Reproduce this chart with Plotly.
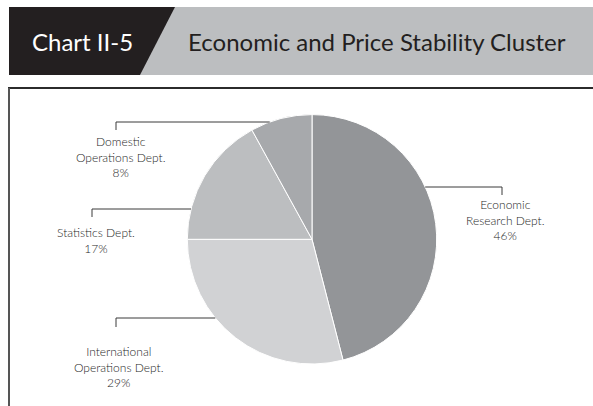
import math
import plotly.graph_objects as go

# Share of the Economic and Price Stability Cluster by department (%)
departments = ["Economic Research Dept.", "International Operations Dept.",
               "Statistics Dept.", "Domestic Operations Dept."]
shares = [46, 29, 17, 8]
label_texts = ["Economic<br>Research Dept.<br>46%",
               "International<br>Operations Dept.<br>29%",
               "Statistics Dept.<br>17%",
               "Domestic<br>Operations Dept.<br>8%"]
slice_colors = ["#939598", "#d1d2d4", "#bcbec0", "#a7a9ac"]

W, H = 593, 406
FONT = "Lato"
INK = "#231f20"


def px(x):
    return x / W


def py(y):
    return 1 - y / H


# pie geometry in pixels
cx, cy, r = 312, 239.3, 124.7

fig = go.Figure(go.Pie(
    labels=departments,
    values=shares,
    sort=False,
    direction="clockwise",
    rotation=0,
    textinfo="none",
    hoverinfo="label+percent",
    marker=dict(colors=slice_colors, line=dict(color="white", width=1)),
    domain=dict(x=[px(cx - r), px(cx + r)], y=[py(cy + r), py(cy - r)]),
    showlegend=False,
))

shapes = []
# header band
shapes.append(dict(type="rect", xref="paper", yref="paper",
                   x0=px(9), x1=px(593), y0=py(75), y1=py(7),
                   fillcolor="#bcbec0", line=dict(width=0), layer="below"))
shapes.append(dict(type="path", xref="paper", yref="paper",
                   path=f"M {px(9)},{py(7)} L {px(175)},{py(7)} L {px(140)},{py(75)} L {px(9)},{py(75)} Z",
                   fillcolor=INK, line=dict(width=0), layer="below"))
# frame around the chart body
shapes.append(dict(type="line", xref="paper", yref="paper",
                   x0=px(8), x1=px(593), y0=py(88), y1=py(88),
                   line=dict(color="#2b2b2b", width=2)))
shapes.append(dict(type="line", xref="paper", yref="paper",
                   x0=px(9), x1=px(9), y0=py(88), y1=py(406),
                   line=dict(color="#555555", width=2)))


def edge_x(y, side):
    dx = math.sqrt(max(r * r - (y - cy) ** 2, 0))
    return cx + side * dx


# leader lines: (bracket x, line y, tick length, side of pie)
leaders = [(502, 187, 8, 1), (116, 318, 9, -1), (92, 209, 8, -1), (116, 122, 8, -1)]
for bx, ly, tick, side in leaders:
    ex = edge_x(ly, side)
    shapes.append(dict(type="path", xref="paper", yref="paper",
                       path=f"M {px(ex)},{py(ly)} L {px(bx)},{py(ly)} L {px(bx)},{py(ly + tick)}",
                       line=dict(color="#3a3a3a", width=1)))

annotations = [
    dict(text="Chart II-5", x=px(83), y=py(41), font=dict(size=24, color="white", family=FONT)),
    dict(text="Economic and Price Stability Cluster", x=px(377), y=py(41),
         font=dict(size=24, color=INK, family=FONT)),
]
# department labels: centre positions in pixels
label_pos = [(505, 220), (119, 367), (96, 240), (121, 157)]
for txt, (lx, ly) in zip(label_texts, label_pos):
    annotations.append(dict(text=txt, x=px(lx), y=py(ly), align="center",
                            font=dict(size=12, color="#1f1f1f", family=FONT, weight=300)))

for a in annotations:
    a.update(xref="paper", yref="paper", showarrow=False, xanchor="center", yanchor="middle")

fig.update_layout(
    width=W, height=H,
    margin=dict(l=0, r=0, t=0, b=0),
    paper_bgcolor="white", plot_bgcolor="white",
    shapes=shapes, annotations=annotations,
)

fig.write_html("out.html")
